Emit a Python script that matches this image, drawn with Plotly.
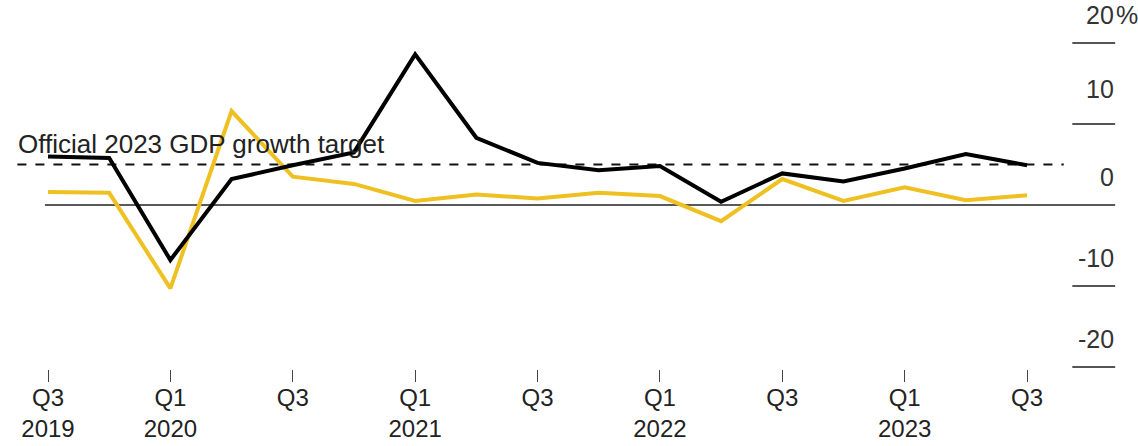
import plotly.graph_objects as go

quarters = ["Q3 2019", "Q4 2019", "Q1 2020", "Q2 2020", "Q3 2020", "Q4 2020",
            "Q1 2021", "Q2 2021", "Q3 2021", "Q4 2021", "Q1 2022", "Q2 2022",
            "Q3 2022", "Q4 2022", "Q1 2023", "Q2 2023", "Q3 2023"]
yoy_growth = [6.0, 5.8, -6.8, 3.2, 4.9, 6.5, 18.6, 8.3, 5.2, 4.3, 4.8, 0.4,
              3.9, 2.9, 4.5, 6.3, 4.9]
qoq_growth = [1.6, 1.5, -10.3, 11.6, 3.5, 2.6, 0.5, 1.3, 0.8, 1.5, 1.1, -2.0,
              3.2, 0.5, 2.2, 0.6, 1.2]
x_tick_idx = [0, 2, 4, 6, 8, 10, 12, 14, 16]
x_tick_text = ["Q3<br>2019", "Q1<br>2020", "Q3", "Q1<br>2021", "Q3",
               "Q1<br>2022", "Q3", "Q1<br>2023", "Q3"]
y_tick_vals = [20, 10, 0, -10, -20]
y_tick_text = ["20", "10", "0", "-10", "-20"]
y_unit = "%"
target = 5.0
target_label = "Official 2023 GDP growth target"

FONT = "Liberation Sans, Arial, Helvetica, sans-serif"
YELLOW = "#EFC021"

x = list(range(len(quarters)))
fig = go.Figure()
fig.add_trace(go.Scatter(x=x, y=qoq_growth, mode="lines",
                         line=dict(color=YELLOW, width=4), hoverinfo="skip"))
fig.add_trace(go.Scatter(x=x, y=yoy_growth, mode="lines",
                         line=dict(color="#000000", width=4), hoverinfo="skip"))

shapes = []
# zero line
shapes.append(dict(type="line", xref="x", yref="y", x0=-0.05, x1=17.44, y0=0, y1=0,
                   line=dict(color="#222222", width=1.5), layer="below"))
# target dashed line
shapes.append(dict(type="line", xref="x", yref="y", x0=-0.5, x1=16.6, y0=target, y1=target,
                   line=dict(color="#111111", width=2, dash="dash"), layer="below"))
# right tick underlines
for v in y_tick_vals:
    if v == 0:
        continue
    shapes.append(dict(type="line", xref="x", yref="y", x0=16.74, x1=17.44, y0=v, y1=v,
                       line=dict(color="#555555", width=2)))

LBL = dict(family=FONT, size=25, color="#333333")
annotations = []
for v, t in zip(y_tick_vals, y_tick_text):
    off = 2.5 if v == 10 else 1.6
    annotations.append(dict(x=17.43, y=v + off, xref="x", yref="y", text=t,
                            showarrow=False, xanchor="right", yanchor="bottom",
                            font=LBL, borderpad=0))
    if v == 20:
        annotations.append(dict(x=17.43, y=v + off, xref="x", yref="y", text=y_unit,
                                showarrow=False, xanchor="left", yanchor="bottom",
                                font=LBL, borderpad=0))
annotations.append(dict(x=-0.5, y=target + 0.5, xref="x", yref="y", text=target_label,
                        showarrow=False, xanchor="left", yanchor="bottom",
                        font=dict(family=FONT, size=26, color="#222222"), borderpad=0))

px_per_q = 61.19
x0 = -48 / px_per_q
x1 = (1138 - 48) / px_per_q
px_per_unit = 8.1
plot_bottom = 369
y_top = 205 / px_per_unit
y_bot = -(plot_bottom - 205) / px_per_unit

fig.update_layout(
    width=1138, height=446,
    margin=dict(l=0, r=0, t=0, b=446 - plot_bottom, pad=0, autoexpand=False),
    paper_bgcolor="white", plot_bgcolor="white",
    showlegend=False,
    shapes=shapes, annotations=annotations,
    xaxis=dict(range=[x0, x1], tickvals=x_tick_idx, ticktext=x_tick_text,
               ticks="outside", ticklen=12, tickwidth=1, tickcolor="#444444",
               ticklabelstandoff=-5,
               showgrid=False, zeroline=False, showline=False, automargin=False,
               tickfont=dict(family=FONT, size=24, color="#222222")),
    yaxis=dict(range=[y_bot, y_top], visible=False, automargin=False),
)

fig.write_html("out.html")
